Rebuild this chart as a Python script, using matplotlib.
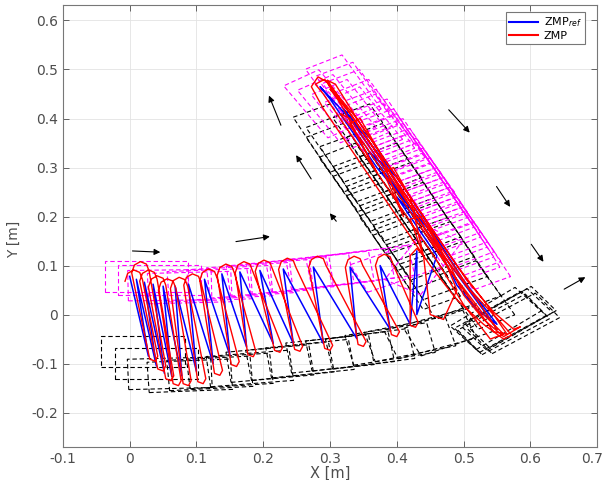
import matplotlib
matplotlib.use("Agg")
import matplotlib.pyplot as plt
from matplotlib.patches import Rectangle
from matplotlib.transforms import ScaledTranslation

# left footsteps (magenta): centre x, centre y [m], yaw [deg]
left_x = [0.025, 0.045, 0.060, 0.090, 0.120, 0.150, 0.180, 0.210, 0.240, 0.270, 0.300, 0.330, 0.360,
          0.400, 0.440,
          0.500, 0.480, 0.460, 0.440, 0.420, 0.400, 0.370, 0.330, 0.290,
          0.490, 0.470, 0.450, 0.430, 0.410, 0.385, 0.350, 0.310,
          0.320, 0.345, 0.370, 0.395, 0.420, 0.440, 0.460, 0.480, 0.500, 0.515,
          0.335, 0.360, 0.385, 0.410, 0.430, 0.450, 0.470, 0.490]
left_y = [0.078, 0.070, 0.060, 0.055, 0.060, 0.065, 0.070, 0.075, 0.080, 0.085, 0.090, 0.095, 0.100,
          0.100, 0.110,
          0.140, 0.180, 0.220, 0.260, 0.300, 0.340, 0.380, 0.410, 0.430,
          0.160, 0.200, 0.240, 0.280, 0.320, 0.360, 0.395, 0.420,
          0.460, 0.430, 0.390, 0.350, 0.310, 0.270, 0.230, 0.190, 0.150, 0.120,
          0.445, 0.410, 0.370, 0.330, 0.290, 0.250, 0.210, 0.170]
left_yaw = [0, 0, 1, 2, 3, 4, 5, 6, 7, 8, 8, 9, 10,
            25, 60,
            115, 116, 117, 117, 116, 117, 118, 120, 122,
            116, 117, 116, 118, 117, 119, 121, 121,
            118, 117, 117, 116, 117, 117, 116, 117, 117, 116,
            117, 118, 116, 117, 118, 117, 116, 117]

# right footsteps (black)
right_x = [0.020, 0.040, 0.060, 0.090, 0.120, 0.150, 0.180, 0.210, 0.240, 0.270, 0.300, 0.330, 0.360,
           0.390, 0.420, 0.450, 0.480,
           0.460, 0.440, 0.420, 0.400, 0.380, 0.360, 0.340, 0.320,
           0.440, 0.420, 0.400, 0.380, 0.360, 0.340, 0.320, 0.300,
           0.360, 0.380, 0.400, 0.420, 0.440, 0.460, 0.480, 0.500, 0.520,
           0.555, 0.565, 0.560, 0.570, 0.548, 0.575]
right_y = [-0.075, -0.100, -0.120, -0.125, -0.120, -0.115, -0.110, -0.100, -0.095, -0.090, -0.080, -0.075, -0.070,
           -0.060, -0.050, -0.040, -0.030,
           0.060, 0.100, 0.140, 0.180, 0.220, 0.260, 0.300, 0.340,
           0.080, 0.120, 0.160, 0.200, 0.240, 0.280, 0.320, 0.360,
           0.360, 0.320, 0.280, 0.240, 0.200, 0.160, 0.120, 0.080, 0.040,
           -0.015, -0.010, -0.020, -0.005, -0.008, -0.018]
right_yaw = [0, 0, 2, 3, 4, 5, 6, 7, 8, 8, 8, 9, 10,
             12, 15, 20, 25,
             115, 116, 117, 117, 118, 117, 116, 117,
             116, 117, 118, 116, 117, 118, 117, 116,
             117, 118, 117, 116, 117, 117, 116, 117, 118,
             37, 38, 36, 37, 39, 36]
FOOT_L, FOOT_W = 0.125, 0.062

# reference ZMP (blue)
zmp_ref_x = [0.000, 0.028, 0.010, 0.040, 0.022, 0.052, 0.035, 0.063, 0.050, 0.078, 0.068, 0.100, 0.088, 0.125,
             0.112, 0.150, 0.138, 0.175, 0.165, 0.215, 0.195, 0.245, 0.230, 0.290, 0.275, 0.340, 0.330, 0.390,
             0.375, 0.420, 0.430, 0.430, 0.460, 0.400, 0.440, 0.360, 0.400, 0.320, 0.350, 0.285, 0.300, 0.370,
             0.450, 0.490, 0.520, 0.550, 0.500, 0.420, 0.360, 0.330, 0.400, 0.470, 0.540, 0.550]
zmp_ref_y = [0.078, -0.085, 0.072, -0.105, 0.066, -0.120, 0.062, -0.126, 0.058, -0.125, 0.058, -0.116, 0.062, -0.100,
             0.072, -0.083, 0.083, -0.066, 0.087, -0.059, 0.090, -0.059, 0.093, -0.059, 0.097, -0.049, 0.097, -0.030,
             0.100, -0.020, 0.130, 0.000, 0.120, 0.240, 0.180, 0.330, 0.280, 0.420, 0.370, 0.465, 0.440, 0.300,
             0.170, 0.060, 0.010, -0.020, 0.070, 0.240, 0.360, 0.400, 0.260, 0.120, -0.010, -0.030]

# measured ZMP (red)
zmp_x = [-0.007, -0.003, 0.006, 0.015, 0.019, 0.042, 0.038, 0.030,
         0.003, 0.007, 0.016, 0.025, 0.029, 0.054, 0.050, 0.042,
         0.015, 0.019, 0.028, 0.037, 0.041, 0.066, 0.062, 0.054,
         0.028, 0.032, 0.041, 0.050, 0.054, 0.077, 0.073, 0.065,
         0.043, 0.047, 0.056, 0.065, 0.069, 0.092, 0.088, 0.080,
         0.061, 0.065, 0.074, 0.083, 0.087, 0.114, 0.110, 0.102,
         0.081, 0.085, 0.094, 0.103, 0.107, 0.139, 0.135, 0.127,
         0.105, 0.109, 0.118, 0.127, 0.131, 0.164, 0.160, 0.152,
         0.131, 0.135, 0.144, 0.153, 0.157, 0.189, 0.185, 0.177,
         0.158, 0.162, 0.171, 0.180, 0.184, 0.229, 0.225, 0.217,
         0.188, 0.192, 0.201, 0.210, 0.214, 0.259, 0.255, 0.247,
         0.223, 0.227, 0.236, 0.245, 0.249, 0.304, 0.300, 0.292,
         0.268, 0.272, 0.281, 0.290, 0.294, 0.354, 0.350, 0.342,
         0.323, 0.327, 0.336, 0.345, 0.349, 0.404, 0.400, 0.392,
         0.368, 0.372, 0.381, 0.390, 0.394, 0.432, 0.428, 0.420,
         0.420, 0.430, 0.440, 0.450, 0.470, 0.490, 0.460, 0.440, 0.420, 0.440, 0.420, 0.395, 0.380, 0.410,
         0.375, 0.345, 0.330, 0.370, 0.320, 0.295, 0.282, 0.272, 0.290, 0.330, 0.370, 0.410, 0.450, 0.490,
         0.530, 0.560, 0.572, 0.555, 0.510, 0.470, 0.430, 0.390, 0.350, 0.310, 0.296, 0.308, 0.345, 0.385,
         0.425, 0.465, 0.505, 0.545, 0.575, 0.585, 0.560, 0.530, 0.500, 0.480, 0.440, 0.400, 0.360, 0.320,
         0.300, 0.330, 0.380, 0.430, 0.480, 0.530, 0.560, 0.540, 0.500, 0.460, 0.415, 0.370, 0.325, 0.290,
         0.278, 0.292, 0.340, 0.390, 0.440, 0.490, 0.535, 0.565, 0.545, 0.505, 0.455, 0.405, 0.350, 0.315,
         0.330, 0.370, 0.420, 0.470, 0.520, 0.550]
zmp_y = [0.068, 0.084, 0.091, 0.086, 0.072, -0.085, -0.095, -0.091,
         0.085, 0.101, 0.108, 0.103, 0.089, -0.105, -0.115, -0.111,
         0.068, 0.084, 0.091, 0.086, 0.072, -0.125, -0.135, -0.131,
         0.056, 0.072, 0.079, 0.074, 0.060, -0.135, -0.145, -0.141,
         0.050, 0.066, 0.073, 0.068, 0.054, -0.135, -0.145, -0.141,
         0.053, 0.069, 0.076, 0.071, 0.057, -0.131, -0.141, -0.137,
         0.060, 0.076, 0.083, 0.078, 0.064, -0.114, -0.124, -0.120,
         0.070, 0.086, 0.093, 0.088, 0.074, -0.096, -0.106, -0.102,
         0.080, 0.096, 0.103, 0.098, 0.084, -0.076, -0.086, -0.082,
         0.085, 0.101, 0.108, 0.103, 0.089, -0.067, -0.077, -0.073,
         0.088, 0.104, 0.111, 0.106, 0.092, -0.065, -0.075, -0.071,
         0.092, 0.108, 0.115, 0.110, 0.096, -0.063, -0.073, -0.069,
         0.096, 0.112, 0.119, 0.114, 0.100, -0.055, -0.065, -0.061,
         0.096, 0.112, 0.119, 0.114, 0.100, -0.035, -0.045, -0.041,
         0.100, 0.116, 0.123, 0.118, 0.104, -0.016, -0.026, -0.022,
         0.120, 0.135, 0.120, 0.000, -0.010, 0.050, 0.150, 0.200, 0.195, 0.120, 0.240, 0.300, 0.290, 0.200,
         0.330, 0.400, 0.390, 0.290, 0.420, 0.475, 0.485, 0.465, 0.420, 0.340, 0.260, 0.180, 0.100, 0.030,
         -0.020, -0.050, -0.042, -0.015, 0.050, 0.130, 0.210, 0.290, 0.370, 0.450, 0.478, 0.470, 0.390, 0.310,
         0.230, 0.150, 0.070, 0.005, -0.030, -0.025, -0.045, -0.010, 0.040, 0.100, 0.190, 0.270, 0.350, 0.430,
         0.460, 0.410, 0.310, 0.200, 0.090, 0.000, -0.040, -0.050, 0.020, 0.110, 0.200, 0.290, 0.380, 0.450,
         0.470, 0.480, 0.400, 0.300, 0.200, 0.100, 0.020, -0.040, -0.035, 0.040, 0.140, 0.240, 0.350, 0.410,
         0.400, 0.320, 0.220, 0.120, 0.030, -0.030]

# walking direction arrows: start -> end
arrow_x0 = [0.000, 0.155, 0.228, 0.274, 0.312, 0.475, 0.547, 0.599, 0.647]
arrow_y0 = [0.130, 0.148, 0.381, 0.272, 0.186, 0.422, 0.266, 0.148, 0.049]
arrow_x1 = [0.050, 0.214, 0.207, 0.247, 0.297, 0.512, 0.572, 0.622, 0.686]
arrow_y1 = [0.127, 0.160, 0.452, 0.330, 0.211, 0.367, 0.215, 0.103, 0.079]

x_ticks = [-0.1, 0, 0.1, 0.2, 0.3, 0.4, 0.5, 0.6, 0.7]
x_labels = ["-0.1", "0", "0.1", "0.2", "0.3", "0.4", "0.5", "0.6", "0.7"]
y_ticks = [-0.2, -0.1, 0, 0.1, 0.2, 0.3, 0.4, 0.5, 0.6]
y_labels = ["-0.2", "-0.1", "0", "0.1", "0.2", "0.3", "0.4", "0.5", "0.6"]

GRAY = "#4d4d4d"

def _feet(ax, xs, ys, yaws, color):
    for cx, cy, a in zip(xs, ys, yaws):
        ax.add_patch(Rectangle((cx - FOOT_L / 2, cy - FOOT_W / 2), FOOT_L, FOOT_W, angle=a,
                               rotation_point="center", fill=False, ec=color, lw=0.8,
                               ls=(0, (4, 2.5)), zorder=2))

fig = plt.figure(figsize=(6.05, 4.8), dpi=100)
ax = fig.add_axes([0.104, 0.069, 0.883, 0.921])

_feet(ax, right_x, right_y, right_yaw, "black")
_feet(ax, left_x, left_y, left_yaw, "#ff00ff")
ax.plot(zmp_ref_x, zmp_ref_y, color="#0000ff", lw=1.1, label="ZMP$_{ref}$", zorder=3)
ax.plot(zmp_x, zmp_y, color="#ff0000", lw=1.0, label="ZMP", zorder=4, solid_joinstyle="round")

for x0, y0, x1, y1 in zip(arrow_x0, arrow_y0, arrow_x1, arrow_y1):
    ax.annotate("", xy=(x1, y1), xytext=(x0, y0),
                arrowprops=dict(arrowstyle="-|>", color="black", lw=0.8, mutation_scale=9), zorder=5)

ax.set_xlim(-0.1, 0.7); ax.set_ylim(-0.27, 0.632)
ax.set_xticks(x_ticks); ax.set_xticklabels(x_labels)
ax.set_yticks(y_ticks); ax.set_yticklabels(y_labels)
ax.tick_params(direction="in", top=True, right=True, length=4, width=0.6, colors=GRAY, labelsize=10)
# last x label sits on the figure edge: nudge it inwards a little
last = ax.get_xticklabels()[-1]
last.set_transform(last.get_transform() + ScaledTranslation(-4 / 72, 0, fig.dpi_scale_trans))
ax.grid(True, color="#e3e3e3", lw=0.6, zorder=0)
ax.set_axisbelow(True)
for s in ax.spines.values(): s.set_color("#777777"); s.set_linewidth(0.8)
ax.set_xlabel("X [m]", fontsize=10.5, color=GRAY, labelpad=0)
ax.set_ylabel("Y [m]", fontsize=10, color=GRAY)
ax.yaxis.set_label_coords(-0.078, 0.47)

leg = ax.legend(loc="upper right", bbox_to_anchor=(0.977, 0.983), fontsize=8, borderaxespad=0,
                handlelength=2.6, fancybox=False, framealpha=1, edgecolor="#777777",
                borderpad=0.3, labelspacing=0.1, handletextpad=0.5)
leg.get_frame().set_linewidth(0.8)
for ln in leg.get_lines(): ln.set_linewidth(1.5)

fig.savefig("out.png", dpi=100)
